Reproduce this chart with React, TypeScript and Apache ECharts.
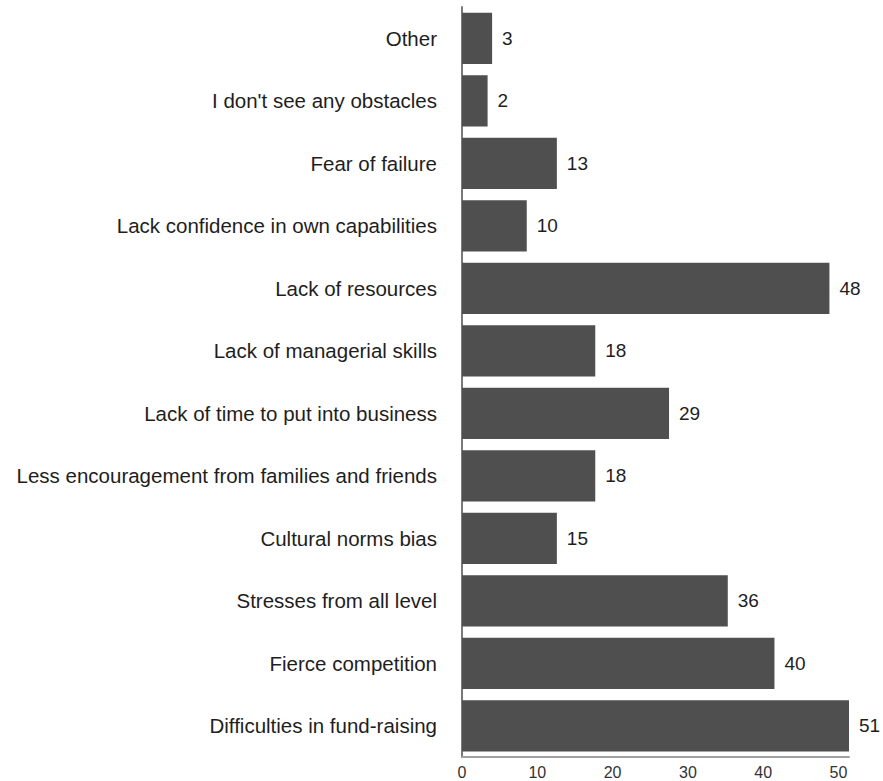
import React, { useEffect, useRef } from "react";
import * as echarts from "echarts";

const categories = [
  "Other",
  "I don't see any obstacles",
  "Fear of failure",
  "Lack confidence in own capabilities",
  "Lack of resources",
  "Lack of managerial skills",
  "Lack of time to put into business",
  "Less encouragement from families and friends",
  "Cultural norms bias",
  "Stresses from all level",
  "Fierce competition",
  "Difficulties in fund-raising",
];

// bar lengths
const barValues = [4.0, 3.4, 12.6, 8.6, 48.8, 17.7, 27.5, 17.7, 12.6, 35.3, 41.5, 51.4];
// numbers printed next to the bars
const valueLabels = ["3", "2", "13", "10", "48", "18", "29", "18", "15", "36", "40", "51"];

const xTicks = [0, 10, 20, 30, 40, 50];

export default function App() {
  const ref = useRef<HTMLDivElement>(null);
  useEffect(() => {
    if (!ref.current) return;
    const chart = echarts.init(ref.current, undefined, { renderer: "svg" });
    chart.setOption({
      animation: false,
      backgroundColor: "#ffffff",
      grid: { left: 462, right: 34, top: 7, bottom: 24, containLabel: false },
      xAxis: {
        type: "value",
        min: 0,
        max: 51.4,
        interval: 10,
        splitLine: { show: false },
        axisTick: { show: false },
        axisLine: { show: true, lineStyle: { color: "#a0a0a0", width: 2 } },
        axisLabel: {
          color: "#333333",
          fontSize: 16,
          fontFamily: "Liberation Sans, Arial, sans-serif",
          margin: 7,
          showMaxLabel: false,
          formatter: (v: number) => (xTicks.indexOf(v) >= 0 ? String(v) : ""),
        },
      },
      yAxis: {
        type: "category",
        data: categories,
        inverse: true,
        axisTick: { show: false },
        axisLine: { show: true, lineStyle: { color: "#7a7a7a", width: 2 } },
        axisLabel: {
          color: "#1e1e1e",
          fontSize: 20.5,
          fontFamily: "Liberation Sans, Arial, sans-serif",
          margin: 25,
        },
      },
      series: [
        {
          type: "bar",
          data: barValues,
          barCategoryGap: "18%",
          clip: false,
          itemStyle: { color: "#4f4f4f" },
          label: {
            show: true,
            position: "right",
            distance: 10,
            color: "#1e1e1e",
            fontSize: 19,
            fontFamily: "Liberation Sans, Arial, sans-serif",
            formatter: (p: any) => valueLabels[p.dataIndex],
          },
        },
      ],
    });
    return () => chart.dispose();
  }, []);
  return (
    <div
      ref={ref}
      style={{ position: "fixed", left: 0, top: 0, width: 883, height: 781 }}
    />
  );
}
